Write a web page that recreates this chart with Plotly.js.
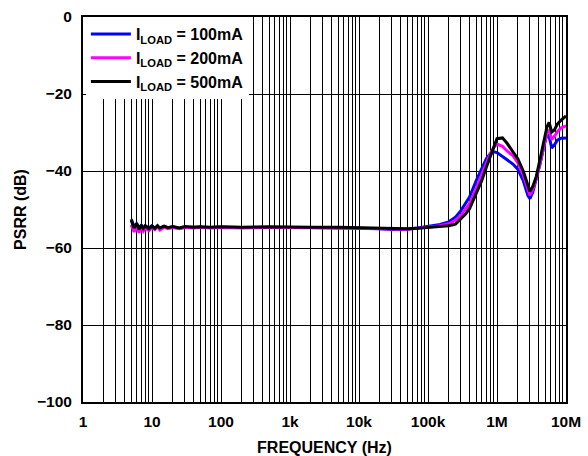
<!DOCTYPE html>
<html>
<head>
<meta charset="utf-8">
<script src="https://cdn.plot.ly/plotly-3.0.1.min.js"></script>
<style>html,body{margin:0;padding:0;background:#fff;}#chart{width:588px;height:456px;}</style>
</head>
<body>
<div id="chart"></div>
<script>
const freq = [5, 5.5, 6, 6.5, 7, 7.5, 8, 9, 10, 11, 12, 13, 15, 17, 20, 25, 30, 40, 50, 70, 100, 200, 500, 1000, 2000, 5000, 10000, 20000, 30000, 50000, 70000, 100000, 150000, 200000, 250000, 300000, 350000, 400000, 500000, 600000, 700000, 800000, 900000, 1000000, 1200000, 1400000, 1700000, 2000000, 2400000, 2800000, 3000000, 3300000, 3700000, 4200000, 4800000, 5300000, 5700000, 6200000, 6800000, 7500000, 8500000, 10000000];

const psrr100mA = [-52.5, -54.5, -53.8, -55.0, -54.2, -55.0, -54.3, -54.8, -54.2, -55.0, -54.4, -54.9, -54.4, -54.8, -54.5, -54.9, -54.6, -54.7, -54.6, -54.7, -54.6, -54.7, -54.6, -54.7, -54.7, -54.8, -54.9, -55.0, -55.2, -55.1, -54.8, -54.4, -53.9, -53.2, -52.0, -50.3, -48.5, -46.8, -42.5, -39.2, -36.8, -35.5, -35.0, -35.2, -36.3, -37.0, -38.2, -39.5, -42.5, -46.3, -47.2, -45.5, -42.3, -38.2, -33.5, -30.5, -31.0, -34.0, -33.2, -32.0, -31.5, -31.4];

const psrr200mA = [-54.0, -55.8, -54.5, -56.0, -54.6, -55.6, -54.8, -55.5, -54.6, -55.2, -54.5, -55.3, -54.6, -55.0, -54.7, -55.0, -54.6, -54.8, -54.6, -54.8, -54.7, -54.8, -54.7, -54.7, -54.8, -54.8, -54.9, -55.0, -55.1, -55.1, -54.9, -54.6, -54.2, -53.7, -52.8, -51.5, -50.0, -48.5, -44.5, -41.0, -38.0, -35.5, -33.8, -33.0, -33.6, -34.8, -36.0, -37.8, -41.0, -44.8, -46.3, -44.8, -42.0, -38.0, -33.5, -30.0, -29.5, -31.8, -31.0, -29.8, -28.8, -28.3];

const psrr500mA = [-52.8, -54.8, -53.6, -55.2, -54.0, -54.9, -54.2, -55.0, -54.3, -54.9, -54.2, -54.8, -54.3, -54.7, -54.4, -54.8, -54.4, -54.6, -54.5, -54.6, -54.5, -54.6, -54.5, -54.6, -54.6, -54.6, -54.7, -54.8, -55.0, -55.0, -54.9, -54.7, -54.4, -54.2, -53.8, -52.5, -51.2, -49.8, -46.0, -42.5, -39.0, -36.3, -33.5, -31.6, -31.4, -32.8, -35.0, -36.8, -40.0, -44.0, -45.3, -44.0, -41.5, -37.0, -32.5, -28.5, -27.4, -29.9, -29.3, -27.8, -26.8, -25.7];

const seriesNames = ['I<sub>LOAD</sub> = 100mA', 'I<sub>LOAD</sub> = 200mA', 'I<sub>LOAD</sub> = 500mA'];
const seriesColors = ['#0000ff', '#ff00ff', '#000000'];

const decadeLabels = ['1', '10', '100', '1k', '10k', '100k', '1M', '10M'];
const yTicks = [0, -20, -40, -60, -80, -100];

// log gridlines at 1..9 x 10^k, labels only on decades
const xTickVals = [];
const xTickText = [];
for (let k = 0; k < 7; k++) {
  for (let m = 1; m <= 9; m++) {
    xTickVals.push(m * Math.pow(10, k));
    xTickText.push(m === 1 ? decadeLabels[k] : '');
  }
}
xTickVals.push(1e7);
xTickText.push(decadeLabels[7]);

const ys = [psrr100mA, psrr200mA, psrr500mA];
const traces = ys.map((y, i) => ({
  x: freq, y: y, type: 'scatter', mode: 'lines', name: seriesNames[i],
  line: {color: seriesColors[i], width: 3}
}));

const fam = '"Liberation Sans", Arial, sans-serif';
const tickFont = {family: fam, size: 15.5, color: '#000', weight: 'bold'};
const titleFont = {family: fam, size: 16, color: '#000', weight: 'bold'};
const legendFont = {family: fam, size: 16, color: '#000', weight: 'bold'};

const layout = {
  width: 588, height: 456,
  margin: {l: 83, r: 22, t: 17, b: 54, pad: 0},
  paper_bgcolor: '#fff', plot_bgcolor: '#fff',
  font: tickFont,
  showlegend: true,
  legend: {
    x: 0.006, y: 1.0, xanchor: 'left', yanchor: 'top',
    bgcolor: '#fff', borderwidth: 0,
    font: legendFont, itemwidth: 40, tracegroupgap: 0
  },
  xaxis: {
    type: 'log', range: [0, 7],
    tickmode: 'array', tickvals: xTickVals, ticktext: xTickText,
    showgrid: true, gridcolor: '#000', gridwidth: 1,
    showline: true, mirror: true, linecolor: '#000', linewidth: 2,
    ticks: '', tickfont: tickFont, ticklabelstandoff: 4,
    zeroline: false,
    title: {text: 'FREQUENCY (Hz)', font: titleFont, standoff: 14}
  },
  yaxis: {
    range: [-100, 0],
    tickmode: 'array', tickvals: yTicks,
    showgrid: true, gridcolor: '#000', gridwidth: 1,
    showline: true, mirror: true, linecolor: '#000', linewidth: 2,
    ticks: '', tickfont: tickFont, ticklabelstandoff: 6,
    zeroline: false,
    title: {text: 'PSRR (dB)', font: titleFont, standoff: 6}
  }
};

Plotly.newPlot('chart', traces, layout, {displayModeBar: false, staticPlot: true});
</script>
</body>
</html>
